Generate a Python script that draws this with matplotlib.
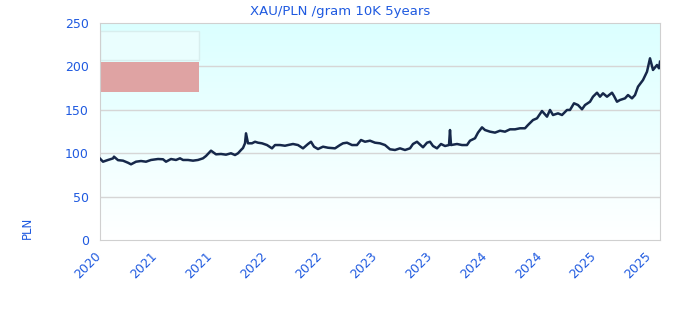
import numpy as np
import matplotlib
matplotlib.use("Agg")
import matplotlib.pyplot as plt
from matplotlib.patches import Rectangle
from matplotlib.transforms import ScaledTranslation

# pixel x positions, turned into fractional years below
px = [99.7, 103, 108, 113, 114, 118, 123, 128, 131, 136, 141, 146, 151, 158, 163, 166,
      171, 176, 180, 183, 188, 193, 198, 203, 206, 211, 216, 221, 226, 231, 235, 238,
      241, 243, 245, 246, 247, 248, 252, 255, 258, 262, 267, 272, 275, 280, 285, 288,
      293, 298, 303, 308, 311, 314, 318, 323, 328, 335, 340, 343, 347, 352, 357, 361,
      365, 370, 375, 380, 385, 390, 395, 400, 405, 410, 413, 417, 423, 427, 430, 433,
      437, 441, 445, 449, 450, 451, 457, 462, 467, 470, 475, 478, 482, 485, 490, 495,
      500, 505, 510, 515, 520, 525, 528, 533, 537, 542, 547, 550, 553, 558, 562, 567,
      570, 574, 578, 582, 585, 590, 593, 597, 600, 603, 607, 612, 614, 617, 620, 625,
      628, 632, 635, 638, 643, 647, 650, 653, 657, 659, 660]
price = [94.1, 90.2, 92.2, 94.0, 96.0, 92.0, 91.4, 89.0, 87.2, 90.2, 91.0, 90.2, 92.2, 93.3, 93.0, 90.2,
         93.3, 92.2, 94.1, 92.2, 92.2, 91.4, 92.2, 94.1, 96.8, 102.9, 98.7, 99.1, 98.3, 99.9, 97.9, 99.9,
         103.7, 106.0, 111.4, 122.9, 117.2, 111.4, 111.4, 113.2, 112.1, 111.4, 109.4, 105.6, 109.4, 109.4, 108.6, 109.4,
         110.6, 109.4, 105.6, 110.6, 113.2, 107.5, 104.8, 107.5, 106.3, 105.6, 109.4, 111.4, 112.1, 109.4, 109.4, 115.2,
         113.2, 114.4, 112.1, 111.4, 109.4, 104.5, 103.7, 105.6, 103.7, 105.6, 110.6, 113.2, 106.8, 112.1, 113.2, 108.3,
         105.6, 110.6, 108.3, 109.4, 126.7, 109.4, 110.6, 109.4, 109.4, 114.4, 117.2, 123.7, 129.8, 126.7, 124.8, 123.7,
         125.9, 124.8, 127.5, 127.5, 128.7, 128.7, 132.5, 138.2, 140.2, 148.6, 142.1, 149.8, 144.0, 145.9, 144.0, 149.8,
         149.8, 157.5, 155.5, 150.6, 155.5, 159.3, 165.1, 169.7, 165.1, 169.0, 165.1, 169.7, 165.9, 159.3, 161.3, 163.2,
         167.0, 163.2, 167.0, 176.6, 184.3, 193.9, 209.3, 195.9, 201.6, 197.8, 205.4]

years = 2020 + (np.array(px) - 100) / 110.0
tick_pos = np.arange(2020, 2025.01, 0.5)
tick_lab = ["2020", "2021", "2021", "2022", "2022", "2023", "2023", "2024", "2024", "2025", "2025"]

blue = "#1f5ae0"

fig = plt.figure(figsize=(6.8, 3.2), dpi=100)
ax = fig.add_axes([100 / 680, 80 / 320, 560 / 680, 217 / 320])

x0, x1 = 2020.0, 2020 + 560 / 110.0
grad = np.linspace(0, 1, 256).reshape(-1, 1)
top = np.array([0.86, 1.0, 1.0])
bot = np.array([1.0, 1.0, 1.0])
img = bot + (top - bot) * grad
ax.imshow(img[:, None, :].repeat(2, axis=1), extent=[x0, x1, 0, 250], origin="lower",
          aspect="auto", zorder=0)

ax.set_xlim(x0, x1)
ax.set_ylim(0, 250)
ax.set_yticks([0, 50, 100, 150, 200, 250])
for y in [50, 100, 150, 200]:
    ax.axhline(y, color="#d6d6d6", lw=1, zorder=1)

ax.plot(years, price, color="#16284a", lw=1.8, zorder=3)

ax.set_xticks(tick_pos)
ax.set_xticklabels(tick_lab, rotation=45, ha="right", va="top", rotation_mode="anchor")
ax.tick_params(axis="both", length=0, colors=blue, labelsize=9)
ax.tick_params(axis="x", pad=7)
ax.tick_params(axis="y", pad=8)
shift = ScaledTranslation(-5 / 100, 0, fig.dpi_scale_trans)
for lab in ax.get_xticklabels():
    lab.set_transform(lab.get_transform() + shift)
for s in ax.spines.values():
    s.set_color("#d0d0d0")

# legend-like boxes at top left
ax.add_patch(Rectangle((0, 0.83), 0.177, 0.135, transform=ax.transAxes, facecolor="#eafefe",
                       edgecolor="#d8eeee", lw=1, zorder=2))
ax.add_patch(Rectangle((0, 0.68), 0.177, 0.14, transform=ax.transAxes, facecolor="#dfa3a3",
                       edgecolor="none", zorder=2))

fig.text(0.5, 1 - 11 / 320, "XAU/PLN /gram 10K 5years", color=blue, fontsize=9.5,
         ha="center", va="center")
fig.text(27 / 680, 1 - 228 / 320, "PLN", color=blue, fontsize=8.5, rotation=90,
         ha="center", va="center")

fig.savefig("out.png", dpi=100)
